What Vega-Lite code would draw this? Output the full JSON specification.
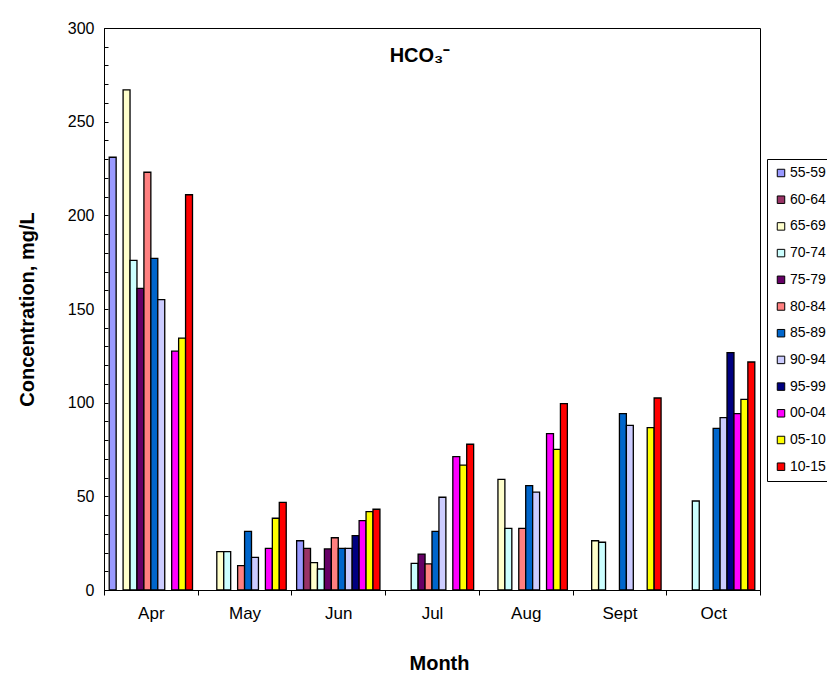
{
  "$schema": "https://vega.github.io/schema/vega-lite/v6.json",
  "autosize": {"type": "none"},
  "padding": {"left": 104, "top": 28, "right": 67, "bottom": 97},
  "width": 656,
  "height": 562,
  "background": "white",
  "title": {
    "text": "HCO₃⁻",
    "orient": "top",
    "anchor": "middle",
    "offset": -56,
    "dx": -12,
    "baseline": "middle",
    "font": "Liberation Sans",
    "fontSize": 20,
    "fontWeight": "bold",
    "color": "black"
  },
  "config": {
    "view": {"stroke": "black", "strokeWidth": 1},
    "font": "Liberation Sans"
  },
  "data": {
    "values": [
      {"month": "Apr", "period": "55-59", "value": 231},
      {"month": "Apr", "period": "65-69", "value": 267},
      {"month": "Apr", "period": "70-74", "value": 176},
      {"month": "Apr", "period": "75-79", "value": 161},
      {"month": "Apr", "period": "80-84", "value": 223},
      {"month": "Apr", "period": "85-89", "value": 177},
      {"month": "Apr", "period": "90-94", "value": 155},
      {"month": "Apr", "period": "00-04", "value": 127.5},
      {"month": "Apr", "period": "05-10", "value": 134.5},
      {"month": "Apr", "period": "10-15", "value": 211},
      {"month": "May", "period": "65-69", "value": 20.5},
      {"month": "May", "period": "70-74", "value": 20.5},
      {"month": "May", "period": "80-84", "value": 13},
      {"month": "May", "period": "85-89", "value": 31.3},
      {"month": "May", "period": "90-94", "value": 17.4},
      {"month": "May", "period": "00-04", "value": 22.2},
      {"month": "May", "period": "05-10", "value": 38.3},
      {"month": "May", "period": "10-15", "value": 46.8},
      {"month": "Jun", "period": "55-59", "value": 26.3},
      {"month": "Jun", "period": "60-64", "value": 22.2},
      {"month": "Jun", "period": "65-69", "value": 14.6},
      {"month": "Jun", "period": "70-74", "value": 11.2},
      {"month": "Jun", "period": "75-79", "value": 21.9},
      {"month": "Jun", "period": "80-84", "value": 27.9},
      {"month": "Jun", "period": "85-89", "value": 22.2},
      {"month": "Jun", "period": "90-94", "value": 22.2},
      {"month": "Jun", "period": "95-99", "value": 29},
      {"month": "Jun", "period": "00-04", "value": 37},
      {"month": "Jun", "period": "05-10", "value": 41.8},
      {"month": "Jun", "period": "10-15", "value": 43.1},
      {"month": "Jul", "period": "70-74", "value": 14.2},
      {"month": "Jul", "period": "75-79", "value": 19.2},
      {"month": "Jul", "period": "80-84", "value": 13.9},
      {"month": "Jul", "period": "85-89", "value": 31.3},
      {"month": "Jul", "period": "90-94", "value": 49.5},
      {"month": "Jul", "period": "00-04", "value": 71.2},
      {"month": "Jul", "period": "05-10", "value": 66.7},
      {"month": "Jul", "period": "10-15", "value": 77.8},
      {"month": "Aug", "period": "65-69", "value": 59.1},
      {"month": "Aug", "period": "70-74", "value": 32.9},
      {"month": "Aug", "period": "80-84", "value": 32.9},
      {"month": "Aug", "period": "85-89", "value": 55.7},
      {"month": "Aug", "period": "90-94", "value": 52.2},
      {"month": "Aug", "period": "00-04", "value": 83.5},
      {"month": "Aug", "period": "05-10", "value": 75.1},
      {"month": "Aug", "period": "10-15", "value": 99.5},
      {"month": "Sept", "period": "65-69", "value": 26.3},
      {"month": "Sept", "period": "70-74", "value": 25.5},
      {"month": "Sept", "period": "85-89", "value": 94.1},
      {"month": "Sept", "period": "90-94", "value": 87.9},
      {"month": "Sept", "period": "05-10", "value": 86.7},
      {"month": "Sept", "period": "10-15", "value": 102.5},
      {"month": "Oct", "period": "70-74", "value": 47.5},
      {"month": "Oct", "period": "85-89", "value": 86.3},
      {"month": "Oct", "period": "90-94", "value": 92},
      {"month": "Oct", "period": "95-99", "value": 126.7},
      {"month": "Oct", "period": "00-04", "value": 94.1},
      {"month": "Oct", "period": "05-10", "value": 101.8},
      {"month": "Oct", "period": "10-15", "value": 121.7}
    ]
  },
  "mark": {"type": "bar", "stroke": "black", "strokeWidth": 1.3},
  "encoding": {
    "x": {
      "field": "month",
      "type": "nominal",
      "sort": ["Apr", "May", "Jun", "Jul", "Aug", "Sept", "Oct"],
      "scale": {"paddingInner": 0, "paddingOuter": 0},
      "axis": {
        "title": "Month",
        "labelAngle": 0,
        "tickBand": "extent",
        "tickSize": 5,
        "tickColor": "black",
        "domainColor": "black",
        "labelPadding": 10,
        "labelFontSize": 17,
        "labelColor": "black",
        "labelFont": "Liberation Sans",
        "titleFont": "Liberation Sans",
        "titleFontSize": 20,
        "titleFontWeight": "bold",
        "titleColor": "black",
        "titleX": 335,
        "titleY": 73,
        "titleBaseline": "middle"
      }
    },
    "xOffset": {
      "field": "period",
      "type": "nominal",
      "sort": ["55-59", "60-64", "65-69", "70-74", "75-79", "80-84", "85-89", "90-94", "95-99", "00-04", "05-10", "10-15"],
      "scale": {"paddingInner": 0, "paddingOuter": 0.75}
    },
    "y": {
      "field": "value",
      "type": "quantitative",
      "scale": {"domain": [0, 300], "nice": false},
      "axis": {
        "title": "Concentration, mg/L",
        "values": [0, 10, 20, 30, 40, 50, 60, 70, 80, 90, 100, 110, 120, 130, 140, 150, 160, 170, 180, 190, 200, 210, 220, 230, 240, 250, 260, 270, 280, 290, 300],
        "labelExpr": "datum.value % 50 === 0 ? datum.label : ''",
        "grid": false,
        "tickSize": -4,
        "tickColor": "black",
        "domainColor": "black",
        "labelPadding": 14,
        "labelFontSize": 16,
        "labelColor": "black",
        "labelFont": "Liberation Sans",
        "labelOverlap": false,
        "titleFont": "Liberation Sans",
        "titleFontSize": 20,
        "titleFontWeight": "bold",
        "titleColor": "black",
        "titleX": -77,
        "titleY": 281,
        "titleBaseline": "middle",
        "titleAngle": -90
      }
    },
    "color": {
      "field": "period",
      "type": "nominal",
      "scale": {
        "domain": ["55-59", "60-64", "65-69", "70-74", "75-79", "80-84", "85-89", "90-94", "95-99", "00-04", "05-10", "10-15"],
        "range": ["#9999FF", "#993366", "#FFFFCC", "#CCFFFF", "#660066", "#FF8080", "#0066CC", "#CCCCFF", "#000080", "#FF00FF", "#FFFF00", "#FF0000"]
      },
      "legend": {
        "title": null,
        "orient": "none",
        "legendX": 663,
        "legendY": 131,
        "strokeColor": "black",
        "fillColor": "white",
        "padding": 7,
        "symbolType": "square",
        "symbolSize": 56,
        "symbolStrokeColor": "black",
        "symbolStrokeWidth": 1,
        "labelFontSize": 14,
        "labelFont": "Liberation Sans",
        "labelColor": "black",
        "labelOffset": 2,
        "rowPadding": 12.7
      }
    }
  }
}
